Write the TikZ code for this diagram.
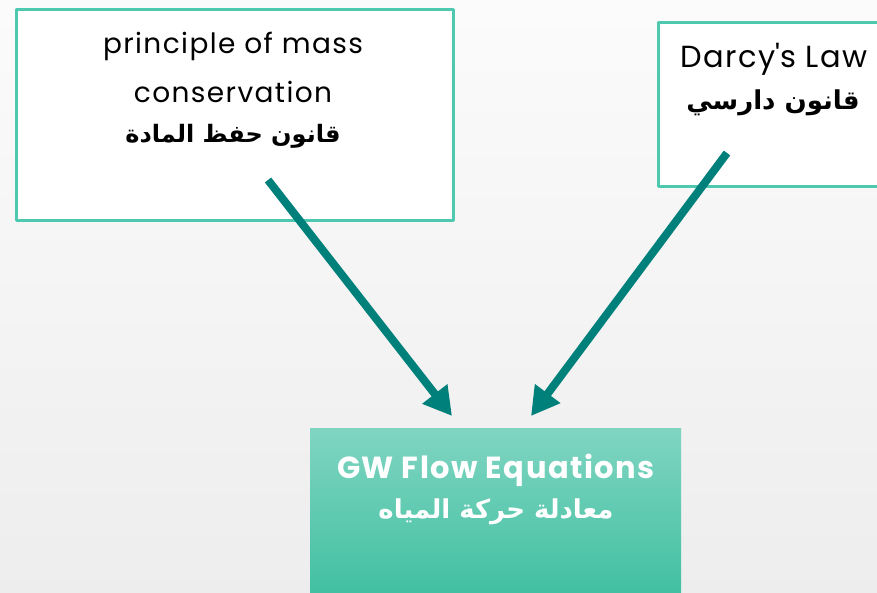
\documentclass[tikz,border=0pt]{standalone}
\usepackage{fontspec}
\setmainfont{Poppins}[LetterSpace=5]
\newfontfamily\arabicfont[Script=Arabic]{DejaVu Sans}
\TeXXeTstate=1
\usetikzlibrary{arrows.meta,positioning}
\definecolor{boxedge}{RGB}{78,201,176}
\definecolor{arrowteal}{RGB}{0,128,122}
\definecolor{gwtop}{RGB}{128,213,194}
\definecolor{gwbot}{RGB}{60,190,158}
\begin{document}
\begin{tikzpicture}[x=1pt, y=-1pt, line join=round, >={Triangle[length=28pt,width=30pt]}]
	\tikzset{
	lawbox/.style={draw=boxedge, line width=3pt, fill=white, anchor=north west, inner sep=0pt},
	entext/.style={anchor=base, inner sep=0pt, font=\fontsize{28}{28}\selectfont},
	artext/.style={anchor=base, inner sep=0pt, font=\fontsize{24}{24}\selectfont\arabicfont\bfseries},
	flow/.style={->, draw=arrowteal, line width=8pt}
	}
	\clip (0,0) rectangle (877,593);
	\shade[top color=gray!3, bottom color=gray!14] (0,0) rectangle (877,593);
	% the two laws
	\node[lawbox, minimum width=437pt, minimum height=211pt] (mass) at (14.5,8.5) {};
	\node[lawbox, minimum width=240pt, minimum height=164pt] (darcy) at (656.5,21.5) {};
	\node[entext] (massEn1) at (233,54) {principle of mass};
	\node[entext] (massEn2) at (233,103) {conservation};
	\node[artext] (massAr) at (233,143) {\beginR قانون حفظ المادة\endR};
	\node[entext, font=\fontsize{30.5}{30.5}\selectfont] (darcyEn) at (774,68) {Darcy\textquotesingle s Law};
	\node[artext, font=\fontsize{26}{26}\selectfont\arabicfont\bfseries] (darcyAr) at (773,110) {\beginR قانون دارسي\endR};
	% result
	\node[anchor=north west, inner sep=0pt, minimum width=371pt, minimum height=180pt,
	top color=gwtop, bottom color=gwbot] (gw) at (310,428) {};
	\node[entext, text=white, font=\fontsize{30.5}{30.5}\selectfont\bfseries] (gwEn) at (496,478) {GW Flow Equations};
	\node[artext, text=white, font=\fontsize{26}{26}\selectfont\arabicfont\bfseries] (gwAr) at (496,518) {\beginR معادلة حركة المياه\endR};
	% arrows
	\coordinate (massTail) at (268,180);
	\coordinate (darcyTail) at (727,153);
	\coordinate (gwLeft) at (452,416);
	\coordinate (gwRight) at (531,416);
	\draw[flow] (massTail) -- (gwLeft);
	\draw[flow] (darcyTail) -- (gwRight);
\end{tikzpicture}
\end{document}
